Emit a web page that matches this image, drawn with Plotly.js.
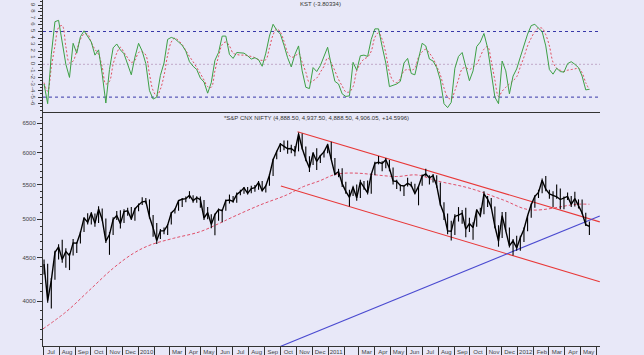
<!DOCTYPE html>
<html><head><meta charset="utf-8">
<script src="https://cdn.plot.ly/plotly-3.0.1.min.js"></script>
<style>html,body{margin:0;padding:0;background:#E8E8F8;}#chart{width:644px;height:355px;}</style>
</head><body><div id="chart"></div>
<script>
const weeks = [
'2009-07-03','2009-07-10','2009-07-17','2009-07-24','2009-07-31','2009-08-07','2009-08-14','2009-08-21','2009-08-28','2009-09-04','2009-09-11','2009-09-18','2009-09-25','2009-10-02','2009-10-09','2009-10-16','2009-10-23','2009-10-30','2009-11-06','2009-11-13','2009-11-20','2009-11-27','2009-12-04','2009-12-11','2009-12-18','2009-12-25',
'2010-01-01','2010-01-08','2010-01-15','2010-01-22','2010-01-29','2010-02-05','2010-02-12','2010-02-19','2010-02-26','2010-03-05','2010-03-12','2010-03-19','2010-03-26','2010-04-02','2010-04-09','2010-04-16','2010-04-23','2010-04-30','2010-05-07','2010-05-14','2010-05-21','2010-05-28','2010-06-04','2010-06-11','2010-06-18','2010-06-25','2010-07-02','2010-07-09','2010-07-16','2010-07-23','2010-07-30','2010-08-06','2010-08-13','2010-08-20','2010-08-27','2010-09-03','2010-09-10','2010-09-17','2010-09-24','2010-10-01','2010-10-08','2010-10-15','2010-10-22','2010-10-29','2010-11-05','2010-11-12','2010-11-19','2010-11-26','2010-12-03','2010-12-10','2010-12-17','2010-12-24','2010-12-31',
'2011-01-07','2011-01-14','2011-01-21','2011-01-28','2011-02-04','2011-02-11','2011-02-18','2011-02-25','2011-03-04','2011-03-11','2011-03-18','2011-03-25','2011-04-01','2011-04-08','2011-04-15','2011-04-22','2011-04-29','2011-05-06','2011-05-13','2011-05-20','2011-05-27','2011-06-03','2011-06-10','2011-06-17','2011-06-24','2011-07-01','2011-07-08','2011-07-15','2011-07-22','2011-07-29','2011-08-05','2011-08-12','2011-08-19','2011-08-26','2011-09-02','2011-09-09','2011-09-16','2011-09-23','2011-09-30','2011-10-07','2011-10-14','2011-10-21','2011-10-28','2011-11-04','2011-11-11','2011-11-18','2011-11-25','2011-12-02','2011-12-09','2011-12-16','2011-12-23','2011-12-30',
'2012-01-06','2012-01-13','2012-01-20','2012-01-27','2012-02-03','2012-02-10','2012-02-17','2012-02-24','2012-03-02','2012-03-09','2012-03-16','2012-03-23','2012-03-30','2012-04-06','2012-04-13','2012-04-20','2012-04-27','2012-05-04','2012-05-11','2012-05-18'];

const closes = [
4424,4004,4231,4568,4636,4481,4580,4528,4688,4683,4819,5020,4959,5083,4945,5142,4997,4711,4796,4998,5052,4942,5108,5118,5006,5144,
5201,5245,5252,5036,4882,4718,4845,4845,4922,5088,5137,5262,5282,5290,5339,5262,5304,5278,5018,5093,4931,5066,5135,5120,5263,5270,5251,5352,5393,5449,5367,5439,5452,5530,5409,5479,5640,5884,6018,6143,6103,6062,6066,6018,6312,6071,5891,5752,5992,5857,5948,6011,6134,
5904,5654,5697,5512,5396,5310,5458,5303,5538,5445,5374,5654,5826,5842,5824,5884,5749,5552,5544,5486,5476,5516,5486,5366,5471,5627,5660,5599,5633,5482,5211,5073,4845,4839,5040,5059,5084,4868,4943,4888,5132,5049,5360,5284,5168,4906,4710,5050,4866,4652,4714,4624,
4754,4867,5049,5205,5325,5382,5564,5429,5359,5333,5318,5278,5296,5323,5207,5290,5190,5087,4928,4906];

const highs = [
4480,4430,4260,4590,4670,4730,4620,4560,4740,4700,4840,5030,5085,5100,5080,5182,5150,5010,4830,5030,5115,5125,5140,5160,5170,5160,
5220,5310,5300,5280,5060,4950,4870,4890,4935,5100,5150,5270,5300,5320,5400,5340,5325,5320,5270,5170,5070,5080,5150,5140,5280,5350,5330,5380,5420,5460,5460,5480,5490,5550,5550,5490,5660,5900,6030,6160,6200,6200,6130,6110,6338,6320,6100,5940,6010,6070,5960,6030,6147,
6180,5910,5740,5750,5540,5420,5480,5500,5570,5550,5560,5670,5850,5944,5860,5910,5880,5760,5570,5500,5480,5600,5540,5510,5480,5650,5740,5640,5660,5640,5530,5240,5080,4980,5070,5170,5130,5160,5020,4960,5140,5160,5400,5330,5300,5180,4920,5100,5100,4890,4740,4780,
4780,4890,5060,5220,5340,5420,5590,5630,5420,5400,5500,5440,5320,5380,5330,5390,5280,5280,5090,4970];

const lows = [
4300,3980,3918,4240,4480,4440,4380,4353,4530,4560,4680,4830,4930,4930,4900,4950,4980,4687,4538,4790,4990,4876,4950,5050,4990,4980,
5110,5200,5220,5010,4766,4675,4740,4800,4790,4930,5080,5120,5170,5240,5290,5230,5230,5160,4990,5000,4880,4786,4980,4960,5120,5220,5230,5230,5340,5360,5350,5370,5390,5420,5400,5380,5480,5630,5890,6010,6040,5980,5990,5940,6020,6050,5860,5690,5800,5720,5830,5920,5990,
5890,5640,5610,5460,5360,5178,5330,5260,5300,5420,5350,5360,5640,5810,5700,5750,5700,5500,5430,5400,5330,5470,5460,5350,5195,5480,5620,5500,5530,5450,5190,4990,4800,4720,4790,4970,4940,4760,4830,4730,4900,5030,5070,5170,5150,4880,4640,4750,4840,4630,4531,4590,
4590,4700,4840,5020,5160,5300,5370,5400,5290,5170,5290,5140,5140,5270,5170,5180,5150,5070,4910,4790];

const kst = [
-3.0,-6.0,1.5,6.5,6.7,3.5,0.0,-2.0,3.2,1.7,
4.2,5.1,4.3,3.4,1.4,2.2,-1.5,-5.9,-0.8,2.5,
3.1,2.2,1.6,0.0,-1.6,1.1,3.2,2.0,0.1,-4.0,
-5.3,-5.0,-1.7,0.2,3.8,4.1,3.9,3.4,2.9,2.0,
0.4,-0.3,-0.8,-2.1,-2.7,-4.4,-2.8,0.6,1.8,4.3,
4.3,1.5,0.9,1.8,1.8,1.7,1.3,0.8,1.0,0.7,
-0.3,1.7,4.3,6.1,5.2,4.6,2.9,1.0,-0.4,1.5,
2.8,-1.0,-3.5,-3.7,-0.5,-1.1,-0.2,1.1,2.6,-0.1,
-2.6,-3.0,-4.5,-4.9,-4.8,0.3,-0.9,1.3,1.4,1.2,
3.8,5.4,5.4,2.7,0.2,-3.4,-3.2,-3.0,-2.6,0.2,
0.9,-1.4,-1.6,1.0,3.2,2.8,0.8,0.5,-0.5,-2.4,
-6.0,-6.6,-5.8,-0.6,1.2,1.8,-0.5,-2.5,-1.0,2.7,
3.4,4.7,2.5,-1.2,-5.0,-6.0,0.5,-1.0,-4.5,-1.8,
-0.7,1.1,2.9,4.6,5.9,6.1,5.5,5.0,2.8,-0.8,
-1.5,-0.6,-1.1,-1.2,0.1,0.4,0.0,-0.5,-1.8,-3.9,
-3.8];

const kstSignal = [
-2.8,-4.1,-0.5,2.8,5.6,5.9,2.7,0.2,0.5,2.1,
3.8,4.6,4.6,3.3,2.3,1.5,-0.4,-3.0,-2.6,0.0,
1.7,2.6,1.8,1.0,0.3,0.6,1.8,1.9,1.4,-1.5,
-4.0,-4.8,-3.8,-1.7,1.4,3.4,4.0,3.6,3.0,2.1,
1.2,0.4,-0.5,-1.4,-2.4,-3.4,-3.5,-1.0,1.2,3.0,
3.4,2.8,1.7,1.5,1.4,1.4,1.3,1.2,1.0,0.7,
0.6,0.7,2.5,4.5,5.4,4.9,3.5,1.8,1.1,1.2,
1.7,0.3,-1.2,-2.8,-2.5,-2.1,-1.2,-0.3,1.0,0.2,
-1.0,-2.3,-3.3,-4.2,-4.2,-3.4,-1.0,0.1,0.8,1.1,
2.0,4.1,4.8,3.8,1.7,-1.2,-2.5,-2.8,-2.2,-1.0,
-0.8,-0.9,-0.6,1.1,1.9,2.3,1.7,0.9,-0.3,-1.6,
-3.6,-5.0,-5.3,-4.0,-2.3,-0.7,-0.5,-0.8,-0.4,0.0,
1.2,2.3,2.7,0.5,-2.4,-4.9,-4.1,-3.5,-3.0,-2.5,
-1.9,-0.4,1.1,2.8,4.0,5.0,5.5,5.5,4.5,2.8,
0.3,-0.6,-0.9,-1.1,-0.9,-0.8,-0.7,-0.6,-1.3,-2.8,
-3.9];

const maDates = ['2009-07-01','2009-08-15','2009-09-29','2009-11-13','2009-12-22','2010-01-23','2010-03-09','2010-04-29','2010-06-07','2010-06-26','2010-08-23','2010-10-13','2010-11-14','2010-12-16','2011-01-11','2011-01-30','2011-03-03','2011-04-04','2011-05-13','2011-06-21','2011-07-29','2011-10-01','2011-12-04','2012-01-25','2012-04-24','2012-05-18'];
const maValues = [3707,3886,4123,4374,4556,4660,4747,4833,4950,5014,5200,5344,5466,5555,5644,5670,5670,5644,5620,5644,5555,5442,5272,5131,5210,5210];

const upperChannelDates = ['2010-11-03','2012-06-07'];
const upperChannelValues = [6352, 4965];
const lowerChannelDates = ['2010-10-02','2012-06-07'];
const lowerChannelValues = [5476, 4217];
const supportDates = ['2010-09-30','2012-06-07'];
const supportValues = [3531, 5046];

const monthStarts = ['2009-07-01','2009-08-01','2009-09-01','2009-10-01','2009-11-01','2009-12-01','2010-01-01','2010-02-01','2010-03-01','2010-04-01','2010-05-01','2010-06-01','2010-07-01','2010-08-01','2010-09-01','2010-10-01','2010-11-01','2010-12-01','2011-01-01','2011-02-01','2011-03-01','2011-04-01','2011-05-01','2011-06-01','2011-07-01','2011-08-01','2011-09-01','2011-10-01','2011-11-01','2011-12-01','2012-01-01','2012-02-01','2012-03-01','2012-04-01','2012-05-01','2012-06-01'];
const monthLabels = ['Jul','Aug','Sep','Oct','Nov','Dec','2010','','Mar','Apr','May','Jun','Jul','Aug','Sep','Oct','Nov','Dec','2011','','Mar','Apr','May','Jun','Jul','Aug','Sep','Oct','Nov','Dec','2012','Feb','Mar','Apr','May',''];

const priceTicks = [4000,4500,5000,5500,6000,6500];
const priceTickLabels = ['4000','4500','5000','5500','6000','6500'];
const kstTicks = [9,8,7,6,5,4,3,2,1,0,-1,-2,-3,-4,-5,-6];
const kstTickLabels = ['9','8','7','6','5','4','3','2','1','0','-1','-2','-3','-4','-5','-6'];
const kstLevels = [5,-5];
const kstZero = [0];

const priceTitle = '*S&P CNX NIFTY (4,888.50, 4,937.50, 4,888.50, 4,906.05, +14.5996)';
const kstTitle = 'KST (-3.80334)';

const BG = '#E8E8F8';
const AX = '#333333';
const tickFont = {family:'Liberation Sans, Arial, sans-serif', size:6, color:'#444'};
const xRange = ['2009-07-01','2012-06-07 10:00'];
const splitY = 1 - 113/346;

const minorPrice = [];
for (let v = 3600; v <= 6700; v += 100) minorPrice.push(v);

const traces = [
  {x: maDates, y: maValues, xaxis:'x', yaxis:'y', mode:'lines', line:{color:'#E0506A', width:1, dash:'3px,2px', shape:'spline'}, hoverinfo:'skip'},
  {x: upperChannelDates, y: upperChannelValues, xaxis:'x', yaxis:'y', mode:'lines', line:{color:'#E83838', width:1.1}, hoverinfo:'skip'},
  {x: lowerChannelDates, y: lowerChannelValues, xaxis:'x', yaxis:'y', mode:'lines', line:{color:'#E83838', width:1.1}, hoverinfo:'skip'},
  {x: supportDates, y: supportValues, xaxis:'x', yaxis:'y', mode:'lines', line:{color:'#4A4AD0', width:1.1}, hoverinfo:'skip'},
  {x: weeks, y: closes, xaxis:'x', yaxis:'y', mode:'lines', line:{color:'#000', width:1.4},
   error_y:{type:'data', symmetric:false, array: highs.map((h,i)=>h-closes[i]), arrayminus: lows.map((l,i)=>closes[i]-l), width:0, thickness:1.1, color:'#000'}, hoverinfo:'skip'},
  {x: weeks, y: kstSignal, xaxis:'x2', yaxis:'y2', mode:'lines', line:{color:'#E05060', width:1, dash:'2px,2px', shape:'spline'}, hoverinfo:'skip'},
  {x: weeks, y: kst, xaxis:'x2', yaxis:'y2', mode:'lines', line:{color:'#3DA045', width:1}, hoverinfo:'skip'}
];

const shapes = [];
kstLevels.forEach(v => shapes.push({type:'line', xref:'x2 domain', x0:0, x1:1, yref:'y2', y0:v, y1:v, line:{color:'#3838A8', width:1, dash:'3px,3px'}, layer:'below'}));
kstZero.forEach(v => shapes.push({type:'line', xref:'x2 domain', x0:0, x1:1, yref:'y2', y0:v, y1:v, line:{color:'#C0A8C8', width:1, dash:'2px,2px'}, layer:'below'}));

const yPriceCommon = {type:'log', range:[3.5487, 3.8251], tickmode:'array', tickvals: priceTicks, ticktext: priceTickLabels,
  ticks:'outside', ticklen:5, tickwidth:1, tickcolor:AX, showline:true, linecolor:AX, linewidth:1, showgrid:false, zeroline:false,
  tickfont: tickFont, minor:{tickmode:'array', tickvals:minorPrice, ticks:'outside', ticklen:2.5, tickcolor:AX, showgrid:false}};
const yKstCommon = {range:[-7.42, 9.8], tickmode:'array', tickvals:kstTicks, ticktext:kstTickLabels, tickangle:90,
  ticks:'outside', ticklen:4, tickwidth:1, tickcolor:AX, showline:true, linecolor:AX, linewidth:1, showgrid:false, zeroline:false,
  tickfont: tickFont, minor:{dtick:0.5, ticks:'outside', ticklen:2, tickcolor:AX, showgrid:false}};

const layout = {
  width:644, height:355, margin:{l:43, r:44, t:0, b:9},
  paper_bgcolor:BG, plot_bgcolor:BG, showlegend:false,
  xaxis:{type:'date', range:xRange, anchor:'y', domain:[0,1], tickmode:'array', tickvals:monthStarts, ticktext:monthLabels,
    ticks:'outside', ticklen:9, tickwidth:1, tickcolor:AX, showline:true, mirror:true, linecolor:AX, linewidth:1.2, showgrid:false,
    tickfont: tickFont, ticklabelshift:8, ticklabelstandoff:-9},
  xaxis2:{type:'date', matches:'x', anchor:'y2', showticklabels:false, ticks:'', showgrid:false, showline:false},
  yaxis: Object.assign({domain:[0, splitY], anchor:'x', side:'left'}, yPriceCommon),
  yaxis3: Object.assign({overlaying:'y', anchor:'x', side:'right'}, yPriceCommon),
  yaxis2: Object.assign({domain:[splitY, 1], anchor:'x2', side:'left'}, yKstCommon),
  yaxis4: Object.assign({overlaying:'y2', anchor:'x2', side:'right'}, yKstCommon),
  shapes: shapes,
  annotations:[
    {text: priceTitle, xref:'paper', yref:'paper', x:(316-43)/557, y:(346-118)/346, showarrow:false, xanchor:'center', yanchor:'middle', font:{family:'Liberation Sans, Arial, sans-serif', size:6, color:'#333'}},
    {text: kstTitle, xref:'paper', yref:'paper', x:(320-43)/557, y:(346-4)/346, showarrow:false, xanchor:'center', yanchor:'middle', font:{family:'Liberation Sans, Arial, sans-serif', size:6, color:'#333'}}
  ]
};

Plotly.newPlot('chart', traces, layout, {staticPlot:true, displayModeBar:false});
</script></body></html>
